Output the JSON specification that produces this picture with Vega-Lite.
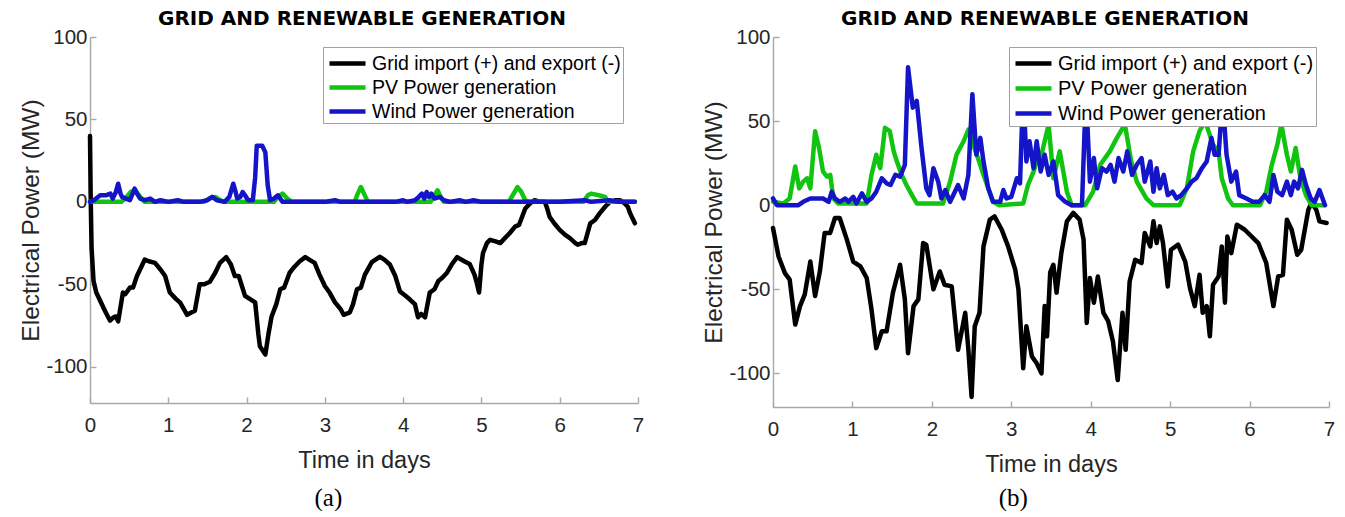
{
  "$schema": "https://vega.github.io/schema/vega-lite/v6.json",
  "padding": {"left": 18, "top": 9, "right": 0, "bottom": 0},
  "background": "white",
  "config": {
    "font": "Liberation Sans",
    "view": {"stroke": null},
    "axis": {
      "grid": false,
      "domainColor": "#a8a8a8",
      "domainWidth": 1.4,
      "tickColor": "#a8a8a8",
      "tickWidth": 1.4,
      "tickSize": -6,
      "labelFontSize": 20.5,
      "labelColor": "#262626",
      "titleColor": "#262626",
      "titleFontWeight": "normal",
      "labelFlush": false,
      "labelExpr": "replace(datum.label, '\u2212', '-')"
    },
    "axisX": {"labelPadding": 18, "titleFontSize": 23.5, "titlePadding": 13},
    "axisY": {"labelPadding": 9, "titleFontSize": 24.5, "titlePadding": 2},
    "legend": {
      "orient": "none",
      "symbolType": "M-1.5,0H1.5",
      "symbolSize": 576,
      "symbolStrokeWidth": 4.5,
      "symbolOffset": 8,
      "labelFontSize": 19.5,
      "labelColor": "#000000",
      "labelOffset": 10,
      "fillColor": "white",
      "strokeColor": "#a0a0a0",
      "padding": 2,
      "rowPadding": 0,
      "cornerRadius": 0,
      "labelLimit": 400
    },
    "title": {"font": "DejaVu Sans", "fontSize": 20, "fontWeight": "bold", "color": "#000000", "offset": -2},
    "line": {"strokeWidth": 4.5, "strokeJoin": "round", "strokeCap": "round"}
  },
  "datasets": {
    "a": [
      {"s":"g","t":0,"p":40},{"s":"g","t":0.008,"p":5},{"s":"g","t":0.02,"p":-28},{"s":"g","t":0.045,"p":-48},{"s":"g","t":0.08,"p":-55},{"s":"g","t":0.13,"p":-60},{"s":"g","t":0.2,"p":-67},{"s":"g","t":0.255,"p":-72},{"s":"g","t":0.3,"p":-70},{"s":"g","t":0.33,"p":-69.5},{"s":"g","t":0.36,"p":-72.5},{"s":"g","t":0.42,"p":-55},{"s":"g","t":0.45,"p":-56},{"s":"g","t":0.51,"p":-52},{"s":"g","t":0.55,"p":-52},{"s":"g","t":0.6,"p":-45},{"s":"g","t":0.7,"p":-35},{"s":"g","t":0.75,"p":-36},{"s":"g","t":0.83,"p":-37},{"s":"g","t":0.9,"p":-41},{"s":"g","t":0.96,"p":-45},{"s":"g","t":1.02,"p":-55},{"s":"g","t":1.1,"p":-59},{"s":"g","t":1.15,"p":-61},{"s":"g","t":1.24,"p":-68.5},{"s":"g","t":1.3,"p":-67},{"s":"g","t":1.34,"p":-66},{"s":"g","t":1.4,"p":-50},{"s":"g","t":1.46,"p":-50},{"s":"g","t":1.53,"p":-48.5},{"s":"g","t":1.6,"p":-43},{"s":"g","t":1.66,"p":-37},{"s":"g","t":1.74,"p":-33.5},{"s":"g","t":1.8,"p":-38},{"s":"g","t":1.85,"p":-45},{"s":"g","t":1.9,"p":-45},{"s":"g","t":1.98,"p":-57},{"s":"g","t":2.06,"p":-59.5},{"s":"g","t":2.11,"p":-61},{"s":"g","t":2.15,"p":-80},{"s":"g","t":2.17,"p":-87.6},{"s":"g","t":2.24,"p":-92.6},{"s":"g","t":2.28,"p":-80},{"s":"g","t":2.32,"p":-69.5},{"s":"g","t":2.38,"p":-62},{"s":"g","t":2.43,"p":-53},{"s":"g","t":2.48,"p":-52},{"s":"g","t":2.55,"p":-43},{"s":"g","t":2.6,"p":-40},{"s":"g","t":2.68,"p":-36},{"s":"g","t":2.75,"p":-33.5},{"s":"g","t":2.8,"p":-35},{"s":"g","t":2.87,"p":-37},{"s":"g","t":2.93,"p":-44},{"s":"g","t":3.0,"p":-51},{"s":"g","t":3.06,"p":-55},{"s":"g","t":3.13,"p":-61},{"s":"g","t":3.2,"p":-65},{"s":"g","t":3.24,"p":-68.5},{"s":"g","t":3.32,"p":-67},{"s":"g","t":3.36,"p":-62},{"s":"g","t":3.41,"p":-53},{"s":"g","t":3.46,"p":-52},{"s":"g","t":3.51,"p":-44.3},{"s":"g","t":3.56,"p":-40},{"s":"g","t":3.6,"p":-36.5},{"s":"g","t":3.7,"p":-33.3},{"s":"g","t":3.76,"p":-35},{"s":"g","t":3.83,"p":-38},{"s":"g","t":3.9,"p":-45},{"s":"g","t":3.96,"p":-54.4},{"s":"g","t":4.03,"p":-57},{"s":"g","t":4.09,"p":-59.4},{"s":"g","t":4.15,"p":-62},{"s":"g","t":4.19,"p":-70},{"s":"g","t":4.23,"p":-68},{"s":"g","t":4.28,"p":-70},{"s":"g","t":4.34,"p":-55},{"s":"g","t":4.4,"p":-53},{"s":"g","t":4.45,"p":-48},{"s":"g","t":4.5,"p":-46},{"s":"g","t":4.56,"p":-43},{"s":"g","t":4.62,"p":-38},{"s":"g","t":4.69,"p":-33.5},{"s":"g","t":4.78,"p":-36},{"s":"g","t":4.85,"p":-37.7},{"s":"g","t":4.91,"p":-44},{"s":"g","t":4.94,"p":-49},{"s":"g","t":4.97,"p":-55},{"s":"g","t":5.0,"p":-38},{"s":"g","t":5.02,"p":-31},{"s":"g","t":5.07,"p":-25},{"s":"g","t":5.11,"p":-23},{"s":"g","t":5.18,"p":-24},{"s":"g","t":5.24,"p":-25},{"s":"g","t":5.3,"p":-22},{"s":"g","t":5.36,"p":-19},{"s":"g","t":5.43,"p":-15},{"s":"g","t":5.48,"p":-14},{"s":"g","t":5.52,"p":-9},{"s":"g","t":5.56,"p":-4},{"s":"g","t":5.62,"p":-1},{"s":"g","t":5.68,"p":1},{"s":"g","t":5.75,"p":0},{"s":"g","t":5.81,"p":0},{"s":"g","t":5.84,"p":-4},{"s":"g","t":5.87,"p":-9},{"s":"g","t":5.93,"p":-13},{"s":"g","t":6.0,"p":-17},{"s":"g","t":6.07,"p":-20},{"s":"g","t":6.13,"p":-22},{"s":"g","t":6.2,"p":-25},{"s":"g","t":6.23,"p":-26},{"s":"g","t":6.28,"p":-25},{"s":"g","t":6.32,"p":-25},{"s":"g","t":6.39,"p":-13},{"s":"g","t":6.45,"p":-11},{"s":"g","t":6.51,"p":-7},{"s":"g","t":6.58,"p":-3},{"s":"g","t":6.64,"p":0},{"s":"g","t":6.72,"p":1},{"s":"g","t":6.77,"p":1},{"s":"g","t":6.83,"p":-1},{"s":"g","t":6.87,"p":-3},{"s":"g","t":6.9,"p":-7},{"s":"g","t":6.96,"p":-13},
      {"s":"pv","t":0,"p":0},{"s":"pv","t":0.4,"p":0},{"s":"pv","t":0.45,"p":2},{"s":"pv","t":0.52,"p":6},{"s":"pv","t":0.58,"p":7},{"s":"pv","t":0.64,"p":3},{"s":"pv","t":0.7,"p":0},{"s":"pv","t":1.45,"p":0},{"s":"pv","t":1.52,"p":2},{"s":"pv","t":1.6,"p":3},{"s":"pv","t":1.66,"p":1},{"s":"pv","t":1.72,"p":0},{"s":"pv","t":2.35,"p":0},{"s":"pv","t":2.4,"p":3},{"s":"pv","t":2.46,"p":5},{"s":"pv","t":2.52,"p":2},{"s":"pv","t":2.58,"p":0},{"s":"pv","t":3.38,"p":0},{"s":"pv","t":3.42,"p":5},{"s":"pv","t":3.46,"p":9},{"s":"pv","t":3.5,"p":5},{"s":"pv","t":3.55,"p":0},{"s":"pv","t":4.35,"p":0},{"s":"pv","t":4.4,"p":4},{"s":"pv","t":4.44,"p":7},{"s":"pv","t":4.48,"p":3},{"s":"pv","t":4.52,"p":0},{"s":"pv","t":5.35,"p":0},{"s":"pv","t":5.4,"p":4},{"s":"pv","t":5.46,"p":9},{"s":"pv","t":5.51,"p":6},{"s":"pv","t":5.56,"p":1},{"s":"pv","t":5.6,"p":0},{"s":"pv","t":6.3,"p":0},{"s":"pv","t":6.36,"p":4},{"s":"pv","t":6.4,"p":5},{"s":"pv","t":6.5,"p":4},{"s":"pv","t":6.58,"p":3},{"s":"pv","t":6.62,"p":0},{"s":"pv","t":6.96,"p":0},
      {"s":"w","t":0,"p":0},{"s":"w","t":0.05,"p":1},{"s":"w","t":0.13,"p":4},{"s":"w","t":0.2,"p":4},{"s":"w","t":0.26,"p":5},{"s":"w","t":0.29,"p":2},{"s":"w","t":0.33,"p":6},{"s":"w","t":0.36,"p":11},{"s":"w","t":0.39,"p":5},{"s":"w","t":0.41,"p":3},{"s":"w","t":0.46,"p":2},{"s":"w","t":0.51,"p":1},{"s":"w","t":0.57,"p":8},{"s":"w","t":0.6,"p":5},{"s":"w","t":0.64,"p":2},{"s":"w","t":0.7,"p":1},{"s":"w","t":0.77,"p":2},{"s":"w","t":0.83,"p":0},{"s":"w","t":0.9,"p":1},{"s":"w","t":1.0,"p":0},{"s":"w","t":1.12,"p":1},{"s":"w","t":1.2,"p":0},{"s":"w","t":1.4,"p":0},{"s":"w","t":1.5,"p":1},{"s":"w","t":1.56,"p":3},{"s":"w","t":1.62,"p":1},{"s":"w","t":1.72,"p":0},{"s":"w","t":1.78,"p":3},{"s":"w","t":1.83,"p":11},{"s":"w","t":1.86,"p":6},{"s":"w","t":1.88,"p":2},{"s":"w","t":1.92,"p":3},{"s":"w","t":1.95,"p":6},{"s":"w","t":1.98,"p":4},{"s":"w","t":2.02,"p":1},{"s":"w","t":2.08,"p":1},{"s":"w","t":2.11,"p":15},{"s":"w","t":2.13,"p":34},{"s":"w","t":2.2,"p":34},{"s":"w","t":2.24,"p":30},{"s":"w","t":2.27,"p":10},{"s":"w","t":2.3,"p":1},{"s":"w","t":2.35,"p":2},{"s":"w","t":2.4,"p":4},{"s":"w","t":2.46,"p":0},{"s":"w","t":2.6,"p":0},{"s":"w","t":3.0,"p":0},{"s":"w","t":3.13,"p":1},{"s":"w","t":3.2,"p":0},{"s":"w","t":3.5,"p":0},{"s":"w","t":3.9,"p":0},{"s":"w","t":4.0,"p":1},{"s":"w","t":4.05,"p":0},{"s":"w","t":4.15,"p":1},{"s":"w","t":4.2,"p":3},{"s":"w","t":4.24,"p":5},{"s":"w","t":4.27,"p":2},{"s":"w","t":4.3,"p":6},{"s":"w","t":4.33,"p":3},{"s":"w","t":4.36,"p":5},{"s":"w","t":4.4,"p":2},{"s":"w","t":4.47,"p":3},{"s":"w","t":4.52,"p":1},{"s":"w","t":4.6,"p":0},{"s":"w","t":4.72,"p":1},{"s":"w","t":4.8,"p":0},{"s":"w","t":4.9,"p":1},{"s":"w","t":5.0,"p":0},{"s":"w","t":5.5,"p":0},{"s":"w","t":6.0,"p":0},{"s":"w","t":6.32,"p":1},{"s":"w","t":6.4,"p":0},{"s":"w","t":6.64,"p":1},{"s":"w","t":6.75,"p":0},{"s":"w","t":6.96,"p":0}
    ],
    "b": [
      {"s":"g","t":0,"p":-13.6},{"s":"g","t":0.07,"p":-30.5},{"s":"g","t":0.15,"p":-40.4},{"s":"g","t":0.21,"p":-44.3},{"s":"g","t":0.28,"p":-71},{"s":"g","t":0.34,"p":-60},{"s":"g","t":0.4,"p":-53},{"s":"g","t":0.47,"p":-33.5},{"s":"g","t":0.53,"p":-54},{"s":"g","t":0.59,"p":-39.4},{"s":"g","t":0.65,"p":-16.5},{"s":"g","t":0.72,"p":-16.5},{"s":"g","t":0.78,"p":-7.6},{"s":"g","t":0.84,"p":-7.6},{"s":"g","t":0.93,"p":-20.5},{"s":"g","t":1.01,"p":-33.5},{"s":"g","t":1.1,"p":-36.4},{"s":"g","t":1.18,"p":-43.3},{"s":"g","t":1.24,"p":-62},{"s":"g","t":1.3,"p":-85},{"s":"g","t":1.37,"p":-75},{"s":"g","t":1.43,"p":-75},{"s":"g","t":1.51,"p":-52},{"s":"g","t":1.6,"p":-35.4},{"s":"g","t":1.66,"p":-56},{"s":"g","t":1.7,"p":-88},{"s":"g","t":1.77,"p":-60},{"s":"g","t":1.83,"p":-56},{"s":"g","t":1.89,"p":-22.5},{"s":"g","t":1.93,"p":-23.5},{"s":"g","t":2.02,"p":-50},{"s":"g","t":2.1,"p":-39.4},{"s":"g","t":2.16,"p":-47.3},{"s":"g","t":2.25,"p":-48.3},{"s":"g","t":2.33,"p":-86},{"s":"g","t":2.42,"p":-64},{"s":"g","t":2.46,"p":-86},{"s":"g","t":2.5,"p":-114},{"s":"g","t":2.54,"p":-72},{"s":"g","t":2.6,"p":-64},{"s":"g","t":2.65,"p":-24.5},{"s":"g","t":2.73,"p":-8.6},{"s":"g","t":2.79,"p":-6.7},{"s":"g","t":2.88,"p":-14.6},{"s":"g","t":2.96,"p":-24.5},{"s":"g","t":3.05,"p":-38.4},{"s":"g","t":3.09,"p":-50},{"s":"g","t":3.15,"p":-97},{"s":"g","t":3.19,"p":-72},{"s":"g","t":3.26,"p":-90},{"s":"g","t":3.32,"p":-94},{"s":"g","t":3.38,"p":-100},{"s":"g","t":3.42,"p":-60},{"s":"g","t":3.45,"p":-78},{"s":"g","t":3.49,"p":-40},{"s":"g","t":3.53,"p":-35.4},{"s":"g","t":3.57,"p":-52},{"s":"g","t":3.63,"p":-28.5},{"s":"g","t":3.7,"p":-9.6},{"s":"g","t":3.78,"p":-4.6},{"s":"g","t":3.86,"p":-8.6},{"s":"g","t":3.91,"p":-20.5},{"s":"g","t":3.95,"p":-70},{"s":"g","t":3.99,"p":-43.3},{"s":"g","t":4.04,"p":-58},{"s":"g","t":4.09,"p":-42.4},{"s":"g","t":4.16,"p":-64},{"s":"g","t":4.22,"p":-69},{"s":"g","t":4.28,"p":-81},{"s":"g","t":4.34,"p":-104},{"s":"g","t":4.4,"p":-64},{"s":"g","t":4.44,"p":-86},{"s":"g","t":4.49,"p":-45.4},{"s":"g","t":4.56,"p":-32.4},{"s":"g","t":4.64,"p":-34.4},{"s":"g","t":4.68,"p":-16.5},{"s":"g","t":4.75,"p":-24.5},{"s":"g","t":4.79,"p":-9.6},{"s":"g","t":4.83,"p":-22.5},{"s":"g","t":4.87,"p":-12.6},{"s":"g","t":4.91,"p":-22.5},{"s":"g","t":4.97,"p":-48.3},{"s":"g","t":5.01,"p":-26.5},{"s":"g","t":5.1,"p":-23.5},{"s":"g","t":5.19,"p":-33.5},{"s":"g","t":5.25,"p":-49.3},{"s":"g","t":5.31,"p":-60},{"s":"g","t":5.37,"p":-41.4},{"s":"g","t":5.41,"p":-64},{"s":"g","t":5.46,"p":-60},{"s":"g","t":5.5,"p":-78},{"s":"g","t":5.54,"p":-47.3},{"s":"g","t":5.61,"p":-42.4},{"s":"g","t":5.65,"p":-24.5},{"s":"g","t":5.69,"p":-58},{"s":"g","t":5.72,"p":-18.6},{"s":"g","t":5.77,"p":-28.5},{"s":"g","t":5.84,"p":-11.6},{"s":"g","t":5.94,"p":-14.6},{"s":"g","t":6.11,"p":-22.5},{"s":"g","t":6.21,"p":-34.4},{"s":"g","t":6.3,"p":-60},{"s":"g","t":6.36,"p":-42.4},{"s":"g","t":6.42,"p":-41.4},{"s":"g","t":6.47,"p":-8.6},{"s":"g","t":6.53,"p":-14.6},{"s":"g","t":6.6,"p":-29.5},{"s":"g","t":6.65,"p":-26.5},{"s":"g","t":6.74,"p":-2.7},{"s":"g","t":6.78,"p":1.3},{"s":"g","t":6.84,"p":-2.7},{"s":"g","t":6.88,"p":-9.6},{"s":"g","t":6.97,"p":-10.6},
      {"s":"pv","t":0,"p":2},{"s":"pv","t":0.13,"p":1},{"s":"pv","t":0.21,"p":4},{"s":"pv","t":0.28,"p":23},{"s":"pv","t":0.33,"p":10},{"s":"pv","t":0.38,"p":14},{"s":"pv","t":0.43,"p":16},{"s":"pv","t":0.47,"p":10},{"s":"pv","t":0.53,"p":44},{"s":"pv","t":0.58,"p":34},{"s":"pv","t":0.63,"p":20},{"s":"pv","t":0.68,"p":17},{"s":"pv","t":0.72,"p":18},{"s":"pv","t":0.76,"p":4},{"s":"pv","t":0.82,"p":1},{"s":"pv","t":1.18,"p":1},{"s":"pv","t":1.24,"p":18},{"s":"pv","t":1.3,"p":30},{"s":"pv","t":1.35,"p":22},{"s":"pv","t":1.41,"p":46},{"s":"pv","t":1.47,"p":44},{"s":"pv","t":1.52,"p":32},{"s":"pv","t":1.56,"p":26},{"s":"pv","t":1.62,"p":18},{"s":"pv","t":1.68,"p":12},{"s":"pv","t":1.75,"p":6},{"s":"pv","t":1.81,"p":1},{"s":"pv","t":2.14,"p":1},{"s":"pv","t":2.23,"p":14},{"s":"pv","t":2.31,"p":30},{"s":"pv","t":2.4,"p":38},{"s":"pv","t":2.46,"p":45},{"s":"pv","t":2.52,"p":36},{"s":"pv","t":2.58,"p":28},{"s":"pv","t":2.65,"p":18},{"s":"pv","t":2.71,"p":10},{"s":"pv","t":2.77,"p":2},{"s":"pv","t":2.85,"p":0},{"s":"pv","t":3.15,"p":1},{"s":"pv","t":3.21,"p":12},{"s":"pv","t":3.28,"p":20},{"s":"pv","t":3.32,"p":26},{"s":"pv","t":3.38,"p":30},{"s":"pv","t":3.47,"p":48},{"s":"pv","t":3.53,"p":16},{"s":"pv","t":3.61,"p":32},{"s":"pv","t":3.7,"p":8},{"s":"pv","t":3.76,"p":0},{"s":"pv","t":3.93,"p":0},{"s":"pv","t":4.03,"p":8},{"s":"pv","t":4.12,"p":24},{"s":"pv","t":4.24,"p":32},{"s":"pv","t":4.33,"p":40},{"s":"pv","t":4.43,"p":48},{"s":"pv","t":4.51,"p":26},{"s":"pv","t":4.58,"p":14},{"s":"pv","t":4.7,"p":4},{"s":"pv","t":4.79,"p":0},{"s":"pv","t":5.12,"p":0},{"s":"pv","t":5.21,"p":10},{"s":"pv","t":5.29,"p":32},{"s":"pv","t":5.37,"p":44},{"s":"pv","t":5.44,"p":50},{"s":"pv","t":5.54,"p":36},{"s":"pv","t":5.61,"p":32},{"s":"pv","t":5.65,"p":16},{"s":"pv","t":5.73,"p":4},{"s":"pv","t":5.79,"p":0},{"s":"pv","t":6.13,"p":0},{"s":"pv","t":6.21,"p":8},{"s":"pv","t":6.28,"p":24},{"s":"pv","t":6.35,"p":36},{"s":"pv","t":6.4,"p":48},{"s":"pv","t":6.47,"p":30},{"s":"pv","t":6.52,"p":20},{"s":"pv","t":6.58,"p":34},{"s":"pv","t":6.64,"p":16},{"s":"pv","t":6.71,"p":6},{"s":"pv","t":6.78,"p":0},{"s":"pv","t":6.93,"p":0},
      {"s":"w","t":0,"p":4},{"s":"w","t":0.05,"p":0},{"s":"w","t":0.21,"p":0},{"s":"w","t":0.32,"p":0},{"s":"w","t":0.38,"p":2},{"s":"w","t":0.47,"p":4},{"s":"w","t":0.63,"p":4},{"s":"w","t":0.7,"p":2},{"s":"w","t":0.74,"p":8},{"s":"w","t":0.78,"p":4},{"s":"w","t":0.84,"p":2},{"s":"w","t":0.91,"p":4},{"s":"w","t":0.95,"p":2},{"s":"w","t":1.01,"p":5},{"s":"w","t":1.05,"p":1},{"s":"w","t":1.12,"p":7},{"s":"w","t":1.18,"p":2},{"s":"w","t":1.24,"p":4},{"s":"w","t":1.3,"p":8},{"s":"w","t":1.37,"p":16},{"s":"w","t":1.43,"p":13},{"s":"w","t":1.48,"p":12},{"s":"w","t":1.54,"p":18},{"s":"w","t":1.6,"p":17},{"s":"w","t":1.66,"p":24},{"s":"w","t":1.7,"p":82},{"s":"w","t":1.76,"p":58},{"s":"w","t":1.81,"p":62},{"s":"w","t":1.87,"p":34},{"s":"w","t":1.93,"p":10},{"s":"w","t":1.97,"p":6},{"s":"w","t":2.02,"p":22},{"s":"w","t":2.08,"p":14},{"s":"w","t":2.12,"p":4},{"s":"w","t":2.17,"p":9},{"s":"w","t":2.23,"p":2},{"s":"w","t":2.29,"p":8},{"s":"w","t":2.33,"p":12},{"s":"w","t":2.4,"p":4},{"s":"w","t":2.46,"p":18},{"s":"w","t":2.51,"p":66},{"s":"w","t":2.56,"p":30},{"s":"w","t":2.61,"p":40},{"s":"w","t":2.65,"p":26},{"s":"w","t":2.71,"p":10},{"s":"w","t":2.77,"p":2},{"s":"w","t":2.86,"p":2},{"s":"w","t":2.9,"p":9},{"s":"w","t":2.94,"p":4},{"s":"w","t":3.0,"p":5},{"s":"w","t":3.07,"p":16},{"s":"w","t":3.11,"p":13},{"s":"w","t":3.15,"p":70},{"s":"w","t":3.19,"p":26},{"s":"w","t":3.23,"p":38},{"s":"w","t":3.28,"p":22},{"s":"w","t":3.32,"p":38},{"s":"w","t":3.37,"p":20},{"s":"w","t":3.42,"p":30},{"s":"w","t":3.47,"p":18},{"s":"w","t":3.53,"p":26},{"s":"w","t":3.59,"p":6},{"s":"w","t":3.68,"p":2},{"s":"w","t":3.76,"p":0},{"s":"w","t":3.89,"p":0},{"s":"w","t":3.94,"p":68},{"s":"w","t":3.99,"p":14},{"s":"w","t":4.04,"p":28},{"s":"w","t":4.08,"p":10},{"s":"w","t":4.14,"p":22},{"s":"w","t":4.2,"p":20},{"s":"w","t":4.25,"p":24},{"s":"w","t":4.3,"p":14},{"s":"w","t":4.35,"p":28},{"s":"w","t":4.41,"p":20},{"s":"w","t":4.46,"p":32},{"s":"w","t":4.52,"p":18},{"s":"w","t":4.58,"p":24},{"s":"w","t":4.64,"p":28},{"s":"w","t":4.68,"p":14},{"s":"w","t":4.75,"p":26},{"s":"w","t":4.79,"p":8},{"s":"w","t":4.83,"p":22},{"s":"w","t":4.87,"p":10},{"s":"w","t":4.92,"p":18},{"s":"w","t":4.97,"p":6},{"s":"w","t":5.03,"p":8},{"s":"w","t":5.08,"p":4},{"s":"w","t":5.14,"p":6},{"s":"w","t":5.21,"p":10},{"s":"w","t":5.27,"p":14},{"s":"w","t":5.33,"p":16},{"s":"w","t":5.4,"p":22},{"s":"w","t":5.46,"p":26},{"s":"w","t":5.52,"p":40},{"s":"w","t":5.56,"p":30},{"s":"w","t":5.61,"p":30},{"s":"w","t":5.66,"p":64},{"s":"w","t":5.71,"p":30},{"s":"w","t":5.77,"p":14},{"s":"w","t":5.83,"p":20},{"s":"w","t":5.87,"p":6},{"s":"w","t":5.96,"p":4},{"s":"w","t":6.04,"p":2},{"s":"w","t":6.12,"p":2},{"s":"w","t":6.19,"p":6},{"s":"w","t":6.25,"p":2},{"s":"w","t":6.3,"p":18},{"s":"w","t":6.35,"p":8},{"s":"w","t":6.41,"p":6},{"s":"w","t":6.47,"p":14},{"s":"w","t":6.52,"p":6},{"s":"w","t":6.56,"p":14},{"s":"w","t":6.61,"p":10},{"s":"w","t":6.66,"p":21},{"s":"w","t":6.71,"p":12},{"s":"w","t":6.77,"p":4},{"s":"w","t":6.82,"p":2},{"s":"w","t":6.88,"p":9},{"s":"w","t":6.95,"p":0}
    ]
  },
  "spacing": 57,
  "resolve": {"scale": {"color": "independent"}, "legend": {"color": "independent"}},
  "hconcat": [
    {
      "title": {"text": "(a)", "orient": "bottom", "anchor": "middle", "font": "Liberation Serif", "fontSize": 25, "fontWeight": "normal", "dx": -3, "offset": 14},
      "resolve": {"scale": {"color": "independent"}, "legend": {"color": "independent"}},
      "vconcat": [
        {
          "title": {"text": "GRID AND RENEWABLE GENERATION", "dx": -2},
          "width": 548,
          "height": 366,
          "data": {"name": "a"},
          "mark": {"type": "line"},
          "encoding": {
            "x": {"field": "t", "type": "quantitative", "scale": {"domain": [0, 7], "nice": false, "zero": false},
                  "axis": {"title": "Time in days", "values": [0, 1, 2, 3, 4, 5, 6, 7], "format": "d"}},
            "y": {"field": "p", "type": "quantitative", "scale": {"domain": [-122, 100], "nice": false},
                  "axis": {"title": "Electrical Power (MW)", "values": [-100, -50, 0, 50, 100], "format": "d"}},
            "color": {"field": "s", "type": "nominal",
                      "scale": {"domain": ["g", "pv", "w"], "range": ["#000000", "#10c410", "#1414c8"]},
                      "legend": {"title": null, "legendX": 233, "legendY": 10,
                                 "labelExpr": "datum.value == 'g' ? 'Grid import (+) and export (-)' : datum.value == 'pv' ? 'PV Power generation' : 'Wind Power generation'"}}
          }
        }
      ]
    },
    {
      "title": {"text": "(b)", "orient": "bottom", "anchor": "middle", "font": "Liberation Serif", "fontSize": 25, "fontWeight": "normal", "dx": -5, "offset": 10},
      "resolve": {"scale": {"color": "independent"}, "legend": {"color": "independent"}},
      "vconcat": [
        {
          "title": {"text": "GRID AND RENEWABLE GENERATION", "dx": -6},
          "width": 556,
          "height": 370,
          "data": {"name": "b"},
          "mark": {"type": "line"},
          "encoding": {
            "x": {"field": "t", "type": "quantitative", "scale": {"domain": [0, 7], "nice": false, "zero": false},
                  "axis": {"title": "Time in days", "values": [0, 1, 2, 3, 4, 5, 6, 7], "format": "d"}},
            "y": {"field": "p", "type": "quantitative", "scale": {"domain": [-120, 100], "nice": false},
                  "axis": {"title": "Electrical Power (MW)", "values": [-100, -50, 0, 50, 100], "format": "d"}},
            "color": {"field": "s", "type": "nominal",
                      "scale": {"domain": ["g", "pv", "w"], "range": ["#000000", "#10c410", "#1414c8"]},
                      "legend": {"title": null, "legendX": 236, "legendY": 10, "labelFontSize": 20,
                                 "labelExpr": "datum.value == 'g' ? 'Grid import (+) and export (-)' : datum.value == 'pv' ? 'PV Power generation' : 'Wind Power generation'"}}
          }
        }
      ]
    }
  ]
}
